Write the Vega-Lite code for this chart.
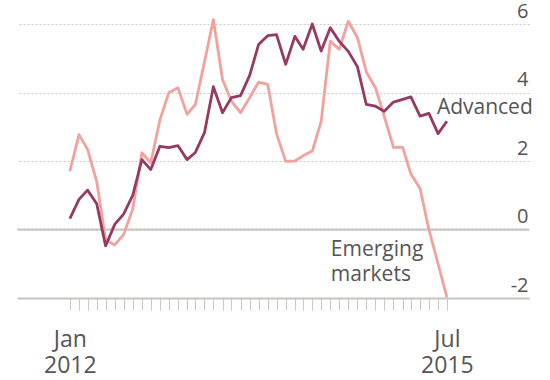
{
  "$schema": "https://vega.github.io/schema/vega-lite/v6.json",
  "width": 512,
  "height": 274,
  "autosize": {"type": "none"},
  "padding": {"left": 17, "top": 24, "right": 21, "bottom": 82},
  "background": "white",
  "config": {"view": {"stroke": null}, "font": "Open Sans"},
  "datasets": {
    "series": [
      {"date": "2012-01-01", "series": "Advanced", "value": 0.32},
      {"date": "2012-02-01", "series": "Advanced", "value": 0.88},
      {"date": "2012-03-01", "series": "Advanced", "value": 1.15},
      {"date": "2012-04-01", "series": "Advanced", "value": 0.75},
      {"date": "2012-05-01", "series": "Advanced", "value": -0.48},
      {"date": "2012-06-01", "series": "Advanced", "value": 0.15},
      {"date": "2012-07-01", "series": "Advanced", "value": 0.45},
      {"date": "2012-08-01", "series": "Advanced", "value": 1.0},
      {"date": "2012-09-01", "series": "Advanced", "value": 2.04},
      {"date": "2012-10-01", "series": "Advanced", "value": 1.75},
      {"date": "2012-11-01", "series": "Advanced", "value": 2.43},
      {"date": "2012-12-01", "series": "Advanced", "value": 2.39},
      {"date": "2013-01-01", "series": "Advanced", "value": 2.45},
      {"date": "2013-02-01", "series": "Advanced", "value": 2.04},
      {"date": "2013-03-01", "series": "Advanced", "value": 2.25},
      {"date": "2013-04-01", "series": "Advanced", "value": 2.83},
      {"date": "2013-05-01", "series": "Advanced", "value": 4.17},
      {"date": "2013-06-01", "series": "Advanced", "value": 3.41},
      {"date": "2013-07-01", "series": "Advanced", "value": 3.85},
      {"date": "2013-08-01", "series": "Advanced", "value": 3.91},
      {"date": "2013-09-01", "series": "Advanced", "value": 4.5},
      {"date": "2013-10-01", "series": "Advanced", "value": 5.4},
      {"date": "2013-11-01", "series": "Advanced", "value": 5.66},
      {"date": "2013-12-01", "series": "Advanced", "value": 5.69},
      {"date": "2014-01-01", "series": "Advanced", "value": 4.82},
      {"date": "2014-02-01", "series": "Advanced", "value": 5.64},
      {"date": "2014-03-01", "series": "Advanced", "value": 5.26},
      {"date": "2014-04-01", "series": "Advanced", "value": 6.0},
      {"date": "2014-05-01", "series": "Advanced", "value": 5.21},
      {"date": "2014-06-01", "series": "Advanced", "value": 5.89},
      {"date": "2014-07-01", "series": "Advanced", "value": 5.5},
      {"date": "2014-08-01", "series": "Advanced", "value": 5.2},
      {"date": "2014-09-01", "series": "Advanced", "value": 4.75},
      {"date": "2014-10-01", "series": "Advanced", "value": 3.65},
      {"date": "2014-11-01", "series": "Advanced", "value": 3.6},
      {"date": "2014-12-01", "series": "Advanced", "value": 3.45},
      {"date": "2015-01-01", "series": "Advanced", "value": 3.72},
      {"date": "2015-02-01", "series": "Advanced", "value": 3.8},
      {"date": "2015-03-01", "series": "Advanced", "value": 3.87},
      {"date": "2015-04-01", "series": "Advanced", "value": 3.31},
      {"date": "2015-05-01", "series": "Advanced", "value": 3.39},
      {"date": "2015-06-01", "series": "Advanced", "value": 2.8},
      {"date": "2015-07-01", "series": "Advanced", "value": 3.16},
      {"date": "2012-01-01", "series": "Emerging markets", "value": 1.7},
      {"date": "2012-02-01", "series": "Emerging markets", "value": 2.77},
      {"date": "2012-03-01", "series": "Emerging markets", "value": 2.34},
      {"date": "2012-04-01", "series": "Emerging markets", "value": 1.4},
      {"date": "2012-05-01", "series": "Emerging markets", "value": -0.3},
      {"date": "2012-06-01", "series": "Emerging markets", "value": -0.45},
      {"date": "2012-07-01", "series": "Emerging markets", "value": -0.15},
      {"date": "2012-08-01", "series": "Emerging markets", "value": 0.6},
      {"date": "2012-09-01", "series": "Emerging markets", "value": 2.24},
      {"date": "2012-10-01", "series": "Emerging markets", "value": 1.95},
      {"date": "2012-11-01", "series": "Emerging markets", "value": 3.2},
      {"date": "2012-12-01", "series": "Emerging markets", "value": 3.99},
      {"date": "2013-01-01", "series": "Emerging markets", "value": 4.14},
      {"date": "2013-02-01", "series": "Emerging markets", "value": 3.36},
      {"date": "2013-03-01", "series": "Emerging markets", "value": 3.65},
      {"date": "2013-04-01", "series": "Emerging markets", "value": 4.9},
      {"date": "2013-05-01", "series": "Emerging markets", "value": 6.13},
      {"date": "2013-06-01", "series": "Emerging markets", "value": 4.38},
      {"date": "2013-07-01", "series": "Emerging markets", "value": 3.75},
      {"date": "2013-08-01", "series": "Emerging markets", "value": 3.41},
      {"date": "2013-09-01", "series": "Emerging markets", "value": 3.85},
      {"date": "2013-10-01", "series": "Emerging markets", "value": 4.3},
      {"date": "2013-11-01", "series": "Emerging markets", "value": 4.24},
      {"date": "2013-12-01", "series": "Emerging markets", "value": 2.8},
      {"date": "2014-01-01", "series": "Emerging markets", "value": 1.99},
      {"date": "2014-02-01", "series": "Emerging markets", "value": 2.0},
      {"date": "2014-03-01", "series": "Emerging markets", "value": 2.15},
      {"date": "2014-04-01", "series": "Emerging markets", "value": 2.29},
      {"date": "2014-05-01", "series": "Emerging markets", "value": 3.15},
      {"date": "2014-06-01", "series": "Emerging markets", "value": 5.5},
      {"date": "2014-07-01", "series": "Emerging markets", "value": 5.26},
      {"date": "2014-08-01", "series": "Emerging markets", "value": 6.08},
      {"date": "2014-09-01", "series": "Emerging markets", "value": 5.6},
      {"date": "2014-10-01", "series": "Emerging markets", "value": 4.6},
      {"date": "2014-11-01", "series": "Emerging markets", "value": 4.14},
      {"date": "2014-12-01", "series": "Emerging markets", "value": 3.3},
      {"date": "2015-01-01", "series": "Emerging markets", "value": 2.4},
      {"date": "2015-02-01", "series": "Emerging markets", "value": 2.4},
      {"date": "2015-03-01", "series": "Emerging markets", "value": 1.62},
      {"date": "2015-04-01", "series": "Emerging markets", "value": 1.2},
      {"date": "2015-05-01", "series": "Emerging markets", "value": 0.0},
      {"date": "2015-06-01", "series": "Emerging markets", "value": -1.0},
      {"date": "2015-07-01", "series": "Emerging markets", "value": -1.98}
    ],
    "notes": [
      {"date": "2015-05-28", "value": 3.36, "label": "Advanced"},
      {"date": "2014-06-03", "value": -0.76, "label": "Emerging\nmarkets"}
    ]
  },
  "layer": [
    {
      "data": {"name": "series"},
      "transform": [{"filter": "datum.series == 'Emerging markets'"}],
      "mark": {"type": "line", "color": "#f3a19d", "strokeWidth": 2.8, "strokeJoin": "round", "opacity": 0},
      "encoding": {
        "x": {
          "field": "date",
          "type": "temporal",
          "scale": {
            "domain": [
              {"year": 2011, "month": 7, "date": 6, "utc": true},
              {"year": 2016, "month": 4, "date": 4, "utc": true}
            ]
          },
          "axis": {
            "title": null,
            "grid": false,
            "tickCount": 100,
            "values": [
              {"year": 2012, "month": 1, "utc": true}, {"year": 2012, "month": 2, "utc": true}, {"year": 2012, "month": 3, "utc": true},
              {"year": 2012, "month": 4, "utc": true}, {"year": 2012, "month": 5, "utc": true}, {"year": 2012, "month": 6, "utc": true},
              {"year": 2012, "month": 7, "utc": true}, {"year": 2012, "month": 8, "utc": true}, {"year": 2012, "month": 9, "utc": true},
              {"year": 2012, "month": 10, "utc": true}, {"year": 2012, "month": 11, "utc": true}, {"year": 2012, "month": 12, "utc": true},
              {"year": 2013, "month": 1, "utc": true}, {"year": 2013, "month": 2, "utc": true}, {"year": 2013, "month": 3, "utc": true},
              {"year": 2013, "month": 4, "utc": true}, {"year": 2013, "month": 5, "utc": true}, {"year": 2013, "month": 6, "utc": true},
              {"year": 2013, "month": 7, "utc": true}, {"year": 2013, "month": 8, "utc": true}, {"year": 2013, "month": 9, "utc": true},
              {"year": 2013, "month": 10, "utc": true}, {"year": 2013, "month": 11, "utc": true}, {"year": 2013, "month": 12, "utc": true},
              {"year": 2014, "month": 1, "utc": true}, {"year": 2014, "month": 2, "utc": true}, {"year": 2014, "month": 3, "utc": true},
              {"year": 2014, "month": 4, "utc": true}, {"year": 2014, "month": 5, "utc": true}, {"year": 2014, "month": 6, "utc": true},
              {"year": 2014, "month": 7, "utc": true}, {"year": 2014, "month": 8, "utc": true}, {"year": 2014, "month": 9, "utc": true},
              {"year": 2014, "month": 10, "utc": true}, {"year": 2014, "month": 11, "utc": true}, {"year": 2014, "month": 12, "utc": true},
              {"year": 2015, "month": 1, "utc": true}, {"year": 2015, "month": 2, "utc": true}, {"year": 2015, "month": 3, "utc": true},
              {"year": 2015, "month": 4, "utc": true}, {"year": 2015, "month": 5, "utc": true}, {"year": 2015, "month": 6, "utc": true},
              {"year": 2015, "month": 7, "utc": true}
            ],
            "labelExpr": "utcFormat(datum.value, '%Y-%m') == '2012-01' ? ['Jan', '2012'] : (utcFormat(datum.value, '%Y-%m') == '2015-07' ? ['Jul', '2015'] : '')",
            "labelFlush": false,
            "labelOverlap": false,
            "labelFontSize": 23,
            "labelColor": "#555555",
            "labelPadding": 18,
            "labelLineHeight": 26.5,
            "domainColor": "#c6c8bf",
            "domainWidth": 2,
            "tickColor": "#d3c7bd",
            "tickSize": 12,
            "tickWidth": 1
          }
        },
        "y": {
          "field": "value",
          "type": "quantitative",
          "scale": {"domain": [-2, 6], "nice": false, "zero": false},
          "axis": {
            "title": null,
            "orient": "right",
            "values": [-2, 0, 2, 4, 6],
            "grid": true,
            "gridColor": "#cfc8ba",
            "gridDash": [2, 2],
            "gridWidth": 1,
            "domain": false,
            "ticks": false,
            "tickSize": 0,
            "labelAlign": "right",
            "labelBaseline": "alphabetic",
            "labelOffset": -7,
            "labelPadding": -1,
            "labelFontSize": 20,
            "labelColor": "#555555",
            "labelExpr": "datum.value < 0 ? '-' + abs(datum.value) : '' + datum.value"
          }
        }
      }
    },
    {
      "data": {"values": [{}]},
      "mark": {"type": "rule", "color": "#c6c8bf", "strokeWidth": 2},
      "encoding": {"y": {"datum": 0, "type": "quantitative"}}
    },
    {
      "data": {"name": "series"},
      "transform": [{"filter": "datum.series == 'Emerging markets'"}],
      "mark": {"type": "line", "color": "#f3a19d", "strokeWidth": 2.8, "strokeJoin": "round"},
      "encoding": {
        "x": {"field": "date", "type": "temporal"},
        "y": {"field": "value", "type": "quantitative"}
      }
    },
    {
      "data": {"name": "series"},
      "transform": [{"filter": "datum.series == 'Advanced'"}],
      "mark": {"type": "line", "color": "#973a62", "strokeWidth": 2.8, "strokeJoin": "round"},
      "encoding": {
        "x": {"field": "date", "type": "temporal"},
        "y": {"field": "value", "type": "quantitative"}
      }
    },
    {
      "data": {"name": "notes"},
      "mark": {"type": "text", "align": "left", "baseline": "alphabetic", "fontSize": 21, "color": "#555555", "lineBreak": "\n", "lineHeight": 25},
      "encoding": {
        "x": {"field": "date", "type": "temporal"},
        "y": {"field": "value", "type": "quantitative"},
        "text": {"field": "label"}
      }
    }
  ]
}
